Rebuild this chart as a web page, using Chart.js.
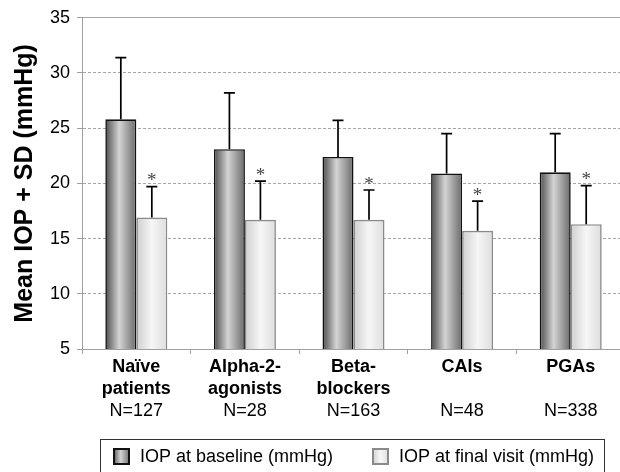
<!DOCTYPE html>
<html>
<head>
<meta charset="utf-8">
<script src="https://cdn.jsdelivr.net/npm/chart.js@4.4.1/dist/chart.umd.min.js"></script>
<style>
  html, body { margin: 0; padding: 0; background: #fff; overflow: hidden; }
  #wrap { width: 620px; height: 472px; overflow: hidden; position: relative; }
  #wrap canvas { display: block; }
</style>
</head>
<body>
<div id="wrap">
  <div style="width:630px;height:472px;position:relative">
    <canvas id="iopChart"></canvas>
  </div>
</div>
<script>
// Datos
const categories = [["Naïve", "patients"], ["Alpha-2-", "agonists"], ["Beta-", "blockers"], ["CAIs"], ["PGAs"]];
const nLabels = ["N=127", "N=28", "N=163", "N=48", "N=338"];
const seriesNames = ["IOP at baseline (mmHg)", "IOP at final visit (mmHg)"];
const baseline = [25.8, 23.1, 22.4, 20.9, 21.0];
const baselineSD = [5.6, 5.1, 3.3, 3.6, 3.5];
const finalVisit = [16.9, 16.7, 16.7, 15.7, 16.3];
const finalSD = [2.8, 3.5, 2.7, 2.7, 3.5];
const significant = [true, true, true, true, true];
const yMin = 5, yMax = 35, yStep = 5;

const FONT = "'Liberation Sans', Arial, sans-serif";

// degradados de las barras (oscuro / claro)
const gradientStops = [
  [[0, "#4c4c4c"], [0.45, "#d4d4d4"], [1, "#6a6a6a"]],
  [[0, "#cfcfcf"], [0.5, "#f6f6f6"], [1, "#dddddd"]],
];
const borderColors = ["#111111", "#8a8a8a"];

function makeGradient(ctx, left, width, stops) {
  const g = ctx.createLinearGradient(left, 0, left + width, 0);
  stops.forEach(([p, c]) => g.addColorStop(p, c));
  return g;
}

// Aplica el degradado a cada barra cuando ya tiene posición
const barGradients = {
  id: "barGradients",
  afterDatasetsUpdate(chart) {
    chart.data.datasets.forEach((ds, di) => {
      chart.getDatasetMeta(di).data.forEach((bar) => {
        const left = bar.x - bar.width / 2;
        bar.options.backgroundColor = makeGradient(chart.ctx, left, bar.width, gradientStops[di]);
      });
    });
  },
};

// Barras de error (+SD) y asteriscos
const errorBars = {
  id: "errorBars",
  afterDatasetsDraw(chart) {
    const { ctx } = chart;
    const y = chart.scales.y;
    const sds = [baselineSD, finalSD];
    ctx.save();
    ctx.strokeStyle = "#000";
    ctx.lineWidth = 1.7;
    chart.data.datasets.forEach((ds, di) => {
      chart.getDatasetMeta(di).data.forEach((bar, i) => {
        const top = y.getPixelForValue(ds.data[i] + sds[di][i]);
        ctx.beginPath();
        ctx.moveTo(bar.x, bar.y);
        ctx.lineTo(bar.x, top);
        ctx.moveTo(bar.x - 5.5, top);
        ctx.lineTo(bar.x + 5.5, top);
        ctx.stroke();
        if (di === 1 && significant[i]) {
          ctx.fillStyle = "#444";
          ctx.font = "19px 'Liberation Serif', serif";
          ctx.textAlign = "center";
          ctx.textBaseline = "alphabetic";
          ctx.fillText("*", bar.x, top - 0.5);
        }
      });
    });
    ctx.restore();
  },
};

// Leyenda con recuadro
const boxedLegend = {
  id: "boxedLegend",
  afterDraw(chart) {
    const { ctx } = chart;
    ctx.save();
    ctx.strokeStyle = "#333";
    ctx.lineWidth = 1;
    ctx.strokeRect(100.5, 439.5, 504, 40);
    const items = [{ x: 113, tx: 140 }, { x: 372, tx: 399 }];
    items.forEach((it, di) => {
      ctx.fillStyle = makeGradient(ctx, it.x, 17, gradientStops[di]);
      ctx.fillRect(it.x, 448, 17, 17);
      ctx.strokeStyle = borderColors[di];
      ctx.lineWidth = 2;
      ctx.strokeRect(it.x + 1, 449, 15, 15);
      ctx.fillStyle = "#000";
      ctx.font = "18px " + FONT;
      ctx.textAlign = "left";
      ctx.textBaseline = "middle";
      ctx.fillText(seriesNames[di], it.tx, 457);
    });
    ctx.restore();
  },
};

function crearGrafica() {
  const canvas = document.getElementById("iopChart");
  new Chart(canvas.getContext("2d"), {
    type: "bar",
    data: {
      labels: categories,
      datasets: [
        {
          label: seriesNames[0],
          data: baseline,
          backgroundColor: () => "#999",
          borderColor: borderColors[0],
          borderWidth: 1.6,
          xAxisID: "x",
        },
        {
          label: seriesNames[1],
          data: finalVisit,
          backgroundColor: () => "#eee",
          borderColor: borderColors[1],
          borderWidth: 1.6,
          xAxisID: "x",
        },
      ],
    },
    options: {
      responsive: true,
      maintainAspectRatio: false,
      animation: false,
      events: [],
      datasets: { bar: { categoryPercentage: 0.571, barPercentage: 1 } },
      layout: { padding: { left: 8, right: 5, top: 17, bottom: 52 } },
      plugins: { legend: { display: false }, tooltip: { enabled: false } },
      scales: {
        x: {
          type: "category",
          position: "bottom",
          weight: 0,
          offset: true,
          grid: { offset: true, drawOnChartArea: false, drawTicks: true, tickLength: 5, tickColor: "#a0a0a0" },
          border: { color: "#a0a0a0", width: 1 },
          ticks: {
            color: "#000",
            padding: 2.5,
            maxRotation: 0,
            autoSkip: false,
            font: { family: FONT, size: 18, weight: "bold", lineHeight: "22px" },
          },
        },
        xN: {
          type: "category",
          labels: nLabels,
          position: "bottom",
          weight: 1,
          offset: true,
          grid: { display: false, drawTicks: false },
          border: { display: false },
          ticks: {
            color: "#000",
            padding: -2.5,
            maxRotation: 0,
            autoSkip: false,
            font: { family: FONT, size: 18, lineHeight: "22px" },
          },
        },
        xTop: {
          type: "category",
          labels: nLabels,
          position: "top",
          offset: true,
          grid: { display: false, drawTicks: false },
          border: { display: true, color: "#a8a8a8", width: 1 },
          ticks: { display: false },
        },
        y: {
          min: yMin,
          max: yMax,
          ticks: {
            stepSize: yStep,
            color: "#000",
            padding: 7,
            font: { family: FONT, size: 18 },
          },
          grid: {
            color: "#a6a6a6",
            lineWidth: 1,
            drawTicks: true,
            tickLength: 5,
            tickColor: "#a0a0a0",
          },
          border: { color: "#a0a0a0", width: 1, dash: [3, 2] },
          title: {
            display: true,
            text: "Mean IOP + SD (mmHg)",
            color: "#000",
            padding: 2.5,
            font: { family: FONT, size: 25, weight: "bold" },
          },
        },
      },
    },
    plugins: [barGradients, errorBars, boxedLegend],
  });
}

document.addEventListener("DOMContentLoaded", crearGrafica);
</script>
</body>
</html>
